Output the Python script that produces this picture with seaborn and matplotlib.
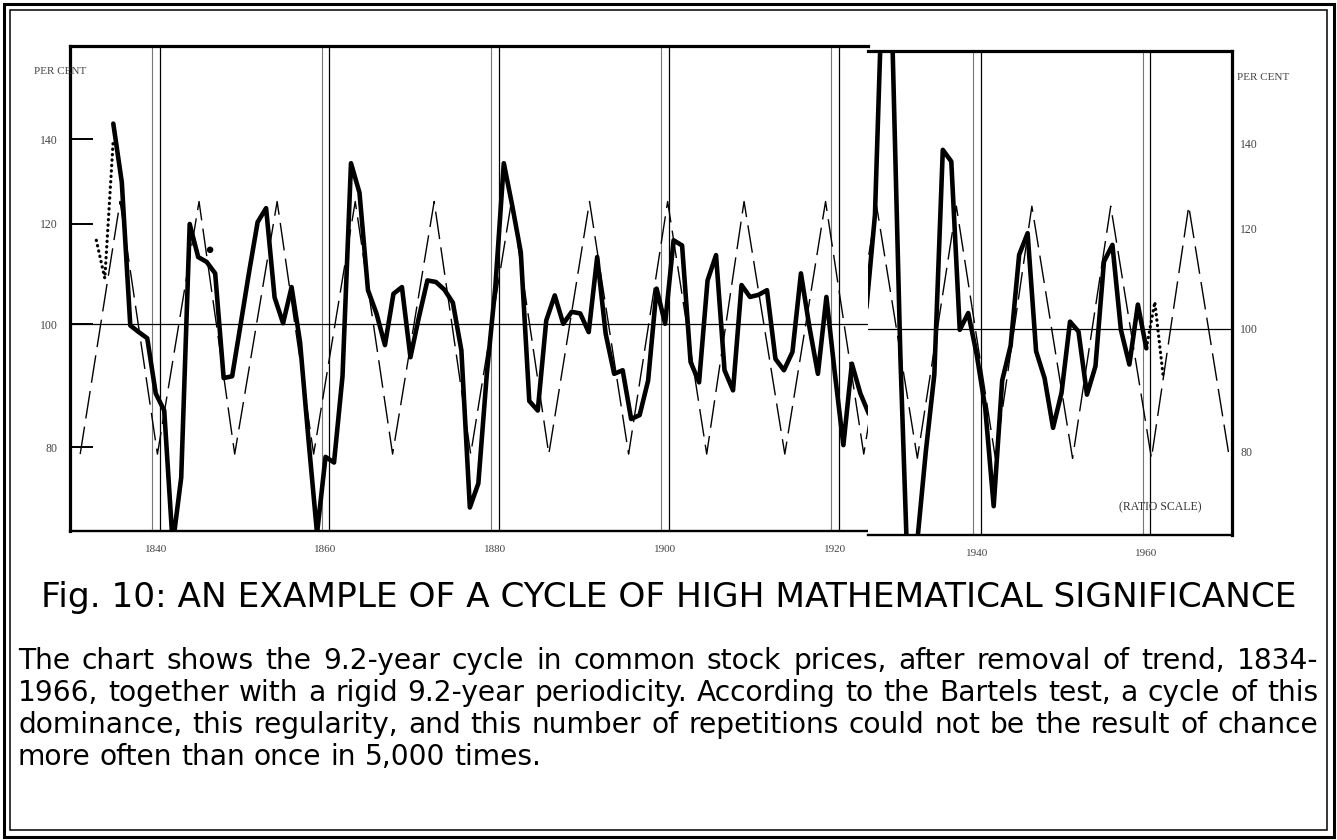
import matplotlib
matplotlib.use("Agg")
import matplotlib.pyplot as plt
import seaborn as sns
from matplotlib.patches import Rectangle

# ---------------- values ----------------
# solid curve, per cent of trend, first strip of the page (1835-1924)
early_years = list(range(1835, 1925))
early_pct = [144, 129.5, 99.8, 98.6, 97.5, 88.2, 85.5, 67, 75.7, 120,          # 1835-44
             113, 112, 109.7, 90.7, 91, 100, 110, 120.4, 123.5, 105,            # 1845-54
             100.2, 107, 96.8, 81, 68.4, 78.6, 77.8, 91, 134, 127,              # 1855-64
             106.4, 102, 96.3, 105.7, 107, 94.2, 101.3, 108.3, 108, 106.5,      # 1865-74
             104, 95.4, 71.7, 74.9, 91.4, 107, 134, 124, 114, 87,               # 1875-84
             85.5, 100.7, 105.4, 100.1, 102.3, 102, 98.6, 113, 98.3, 91.4,      # 1885-94
             92, 84.2, 84.8, 90.3, 106.7, 100.1, 116.5, 115.4, 93.4, 90,        # 1895-1904
             108.3, 113.4, 92, 88.7, 107.4, 105.1, 105.5, 106.4, 93.9, 92,      # 1905-14
             95.1, 109.7, 99.5, 91.4, 105.1, 91.4, 80.3, 93.1, 88.2, 85]        # 1915-24

# solid curve after the splice (1926-1960), 1929 and 1932 run off the chart
late_years = list(range(1926, 1961))
late_pct = [100, 104, 123, 200, 175, 95, 60, 68, 80, 92,                        # 1926-35
            138.5, 135.6, 99.8, 102.9, 95.4, 86.6, 72.4, 91, 97, 114.4,         # 1936-45
            119, 96, 91.4, 83.5, 89, 101.3, 99.5, 88.7, 93.4, 113,              # 1946-55
            116.5, 99.8, 93.7, 104.5, 96.5]                                     # 1956-60

# dotted pieces at both ends
lead_years = [1833, 1834, 1835]
lead_pct = [116.5, 108.7, 140]
tail_years = [1960, 1961, 1962]
tail_pct = [96.5, 105, 91.5]

# rigid 9.2-year periodicity: turning points of the dashed line
wave_years = [1831.1, 1835.8, 1840.2, 1845.1, 1849.3, 1854.3, 1858.6, 1863.5,
              1867.9, 1872.8, 1877.1, 1881.9, 1886.3, 1891.1, 1895.7, 1900.3,
              1904.9, 1909.3, 1914.1, 1918.9, 1923.4, 1928.2, 1933.0, 1937.6,
              1942.2, 1946.5, 1951.3, 1955.8, 1960.6, 1965.0, 1969.8]
wave_pct = [79, 125] * 15 + [79]

# small blot above the curve near 1846
blot_year = [1846.4]
blot_pct = [114.5]

left_decades = [1840, 1860, 1880, 1900, 1920]
right_decades = [1940, 1960]
pct_ticks = [80, 100, 120, 140]

title = "Fig. 10: AN EXAMPLE OF A CYCLE OF HIGH MATHEMATICAL SIGNIFICANCE"
caption = [
    "The chart shows the 9.2-year cycle in common stock prices, after removal of trend, 1834-",
    "1966, together with a rigid 9.2-year periodicity. According to the Bartels test, a cycle of this",
    "dominance, this regularity, and this number of repetitions could not be the result of chance",
    "more often than once in 5,000 times.",
]

# ---------------- drawing ----------------
sns.set_theme(style="white")
plt.rcParams["font.family"] = ["Liberation Serif", "DejaVu Serif"]

W, H = 1337, 840
fig = plt.figure(figsize=(W / 100, H / 100), dpi=100)
fig.patch.set_facecolor("white")


def px_box(x0, y0, x1, y1):
    return [x0 / W, 1 - y1 / H, (x1 - x0) / W, (y1 - y0) / H]


ax_l = fig.add_axes(px_box(70, 46, 868, 531))
ax_r = fig.add_axes(px_box(868, 51, 1232, 535))

for ax, decades in ((ax_l, left_decades), (ax_r, right_decades)):
    for d in decades:
        ax.axvline(d - 0.45, color="#777777", lw=0.8, zorder=1)
        ax.axvline(d + 0.45, color="black", lw=0.9, zorder=1)
    ax.axhline(100, color="black", lw=0.9, zorder=1)
    sns.lineplot(x=wave_years, y=wave_pct, ax=ax, color="black", lw=1.0,
                 linestyle=(0, (20, 6)), errorbar=None, zorder=2)

sns.lineplot(x=early_years, y=early_pct, ax=ax_l, color="black", lw=3.3,
             errorbar=None, zorder=3)
sns.lineplot(x=lead_years, y=lead_pct, ax=ax_l, color="black", lw=2.3,
             linestyle=(0, (0.1, 1.6)), dash_capstyle="round", errorbar=None, zorder=3)
sns.scatterplot(x=blot_year, y=blot_pct, ax=ax_l, color="black", s=22,
                edgecolor="none", zorder=3)

sns.lineplot(x=late_years, y=late_pct, ax=ax_r, color="black", lw=3.3,
             errorbar=None, zorder=3)
sns.lineplot(x=tail_years, y=tail_pct, ax=ax_r, color="black", lw=2.3,
             linestyle=(0, (0.1, 1.6)), dash_capstyle="round", errorbar=None, zorder=3)

for ax, xlim in ((ax_l, (1829.9, 1923.9)), (ax_r, (1927.18, 1970.1))):
    ax.set_yscale("log")
    ax.set_ylim(68.7, 165.8)
    ax.set_xlim(*xlim)
    ax.minorticks_off()
    ax.set_xlabel("")
    ax.set_ylabel("")
    ax.set_yticks(pct_ticks)
    ax.set_yticklabels([str(t) for t in pct_ticks])
    ax.tick_params(axis="x", length=0, pad=10, labelsize=8, labelcolor="#444444")
    for s in ax.spines.values():
        s.set_color("black")
    ax.spines["top"].set_linewidth(2.3)
    ax.spines["bottom"].set_linewidth(1.7)

ax_l.set_xticks(left_decades)
ax_l.set_xticklabels([str(d) for d in left_decades])
ax_l.spines["left"].set_linewidth(2.3)
ax_l.spines["right"].set_visible(False)
ax_l.tick_params(axis="y", direction="in", length=16.5, width=1.4, pad=9,
                 labelsize=8.5, labelcolor="#444444", color="black", left=True)

ax_r.set_xticks(right_decades)
ax_r.set_xticklabels([str(d) for d in right_decades])
ax_r.spines["right"].set_linewidth(2.3)
ax_r.spines["left"].set_visible(False)
ax_r.yaxis.tick_right()
ax_r.tick_params(axis="y", length=0, pad=6, labelsize=8.5, labelcolor="#444444")

fig.text(60 / W, 1 - 72 / H, "PER CENT", ha="center", va="center",
         fontsize=8, color="#444444")
fig.text(1237 / W, 1 - 78 / H, "PER CENT", ha="left", va="center",
         fontsize=8, color="#444444")
fig.text(1160 / W, 1 - 507 / H, "(RATIO SCALE)", ha="center", va="center",
         fontsize=8.5, color="#333333")

# double frame round the page
fig.patches.append(Rectangle((3.5 / W, 3.5 / H), (W - 7) / W, (H - 7) / H,
                             transform=fig.transFigure, fill=False, lw=2.2,
                             ec="black", zorder=10))
fig.patches.append(Rectangle((10 / W, 10 / H), (W - 20) / W, (H - 20) / H,
                             transform=fig.transFigure, fill=False, lw=1.1,
                             ec="black", zorder=10))

renderer = fig.canvas.get_renderer()

# title, sized to span the same width as in the scan
t = fig.text(0.5, 1 - 607 / H, title, ha="center", va="baseline",
             fontsize=20, family="DejaVu Sans", color="black")
tw = t.get_window_extent(renderer).width
t.set_fontsize(20 * 1259 / tw)

# caption: pick the size at which the widest line nearly fills the column
x_left, x_right = 18, 1318
probe = [fig.text(0, 0, line, fontsize=14, family="DejaVu Sans") for line in caption[:3]]
widest = max(p.get_window_extent(renderer).width for p in probe)
for p in probe:
    p.remove()
cap_size = 14 * (x_right - x_left - 6) / widest

sp1 = fig.text(0, 0, "a a", fontsize=cap_size, family="DejaVu Sans")
sp0 = fig.text(0, 0, "aa", fontsize=cap_size, family="DejaVu Sans")
space_w = sp1.get_window_extent(renderer).width - sp0.get_window_extent(renderer).width
sp1.remove()
sp0.remove()

baselines = [669, 701, 733, 765]
for i, (line, yb) in enumerate(zip(caption, baselines)):
    words = line.split(" ")
    items = [fig.text(0, 1 - yb / H, w, ha="left", va="baseline", fontsize=cap_size,
                      family="DejaVu Sans", color="black") for w in words]
    widths = [it.get_window_extent(renderer).width for it in items]
    if i < len(caption) - 1:
        gap = (x_right - x_left - sum(widths)) / (len(words) - 1)
    else:
        gap = space_w
    x = x_left
    for it, w in zip(items, widths):
        it.set_x(x / W)
        x += w + gap

fig.savefig("out.png", dpi=100)
